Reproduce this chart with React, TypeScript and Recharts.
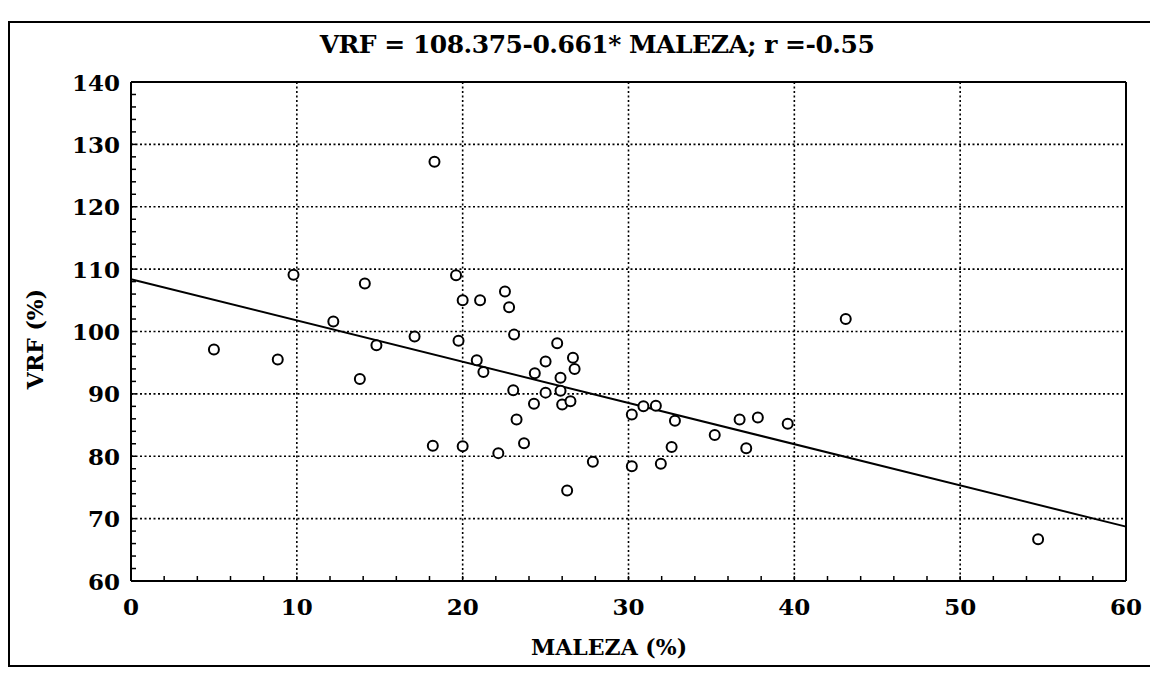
import {
  CartesianGrid,
  Scatter,
  ScatterChart,
  XAxis,
  YAxis,
} from "recharts";

const malezaPct = [
  5.0, 8.85, 9.8, 12.2, 13.8, 14.1, 14.8, 17.1, 18.2, 18.3, 19.6, 19.75, 20.0,
  20.0, 21.05, 20.85, 21.25, 22.15, 22.55, 22.8, 23.1, 23.05, 23.25, 23.7,
  24.3, 24.35, 25.0, 25.0, 25.7, 25.9, 25.9, 26.0, 26.3, 26.5, 26.65, 26.75,
  27.85, 30.2, 30.2, 30.9, 31.65, 31.95, 32.6, 32.8, 35.2, 36.7, 37.1, 37.8,
  39.6, 43.1, 54.7,
];

const vrfPct = [
  97.1, 95.5, 109.1, 101.6, 92.4, 107.7, 97.8, 99.2, 81.7, 127.2, 109.0, 98.5,
  105.0, 81.6, 105.0, 95.4, 93.5, 80.5, 106.4, 103.9, 99.5, 90.6, 85.9, 82.1,
  88.4, 93.3, 95.2, 90.2, 98.1, 92.6, 90.5, 88.3, 74.5, 88.8, 95.8, 94.0,
  79.1, 86.7, 78.4, 88.0, 88.1, 78.8, 81.5, 85.7, 83.4, 85.9, 81.3, 86.2,
  85.2, 102.0, 66.7,
];

// VRF = 108.375 - 0.661 * MALEZA, drawn between the axis ends
const fitX = [0, 60];
const fitY = [108.375, 68.715];

const xMajor = [0, 10, 20, 30, 40, 50, 60];
const yMajor = [60, 70, 80, 90, 100, 110, 120, 130, 140];
const xMinor = [
  0, 2, 4, 6, 8, 10, 12, 14, 16, 18, 20, 22, 24, 26, 28, 30, 32, 34, 36, 38,
  40, 42, 44, 46, 48, 50, 52, 54, 56, 58, 60,
];
const yMinor = [
  60, 62, 64, 66, 68, 70, 72, 74, 76, 78, 80, 82, 84, 86, 88, 90, 92, 94, 96,
  98, 100, 102, 104, 106, 108, 110, 112, 114, 116, 118, 120, 122, 124, 126,
  128, 130, 132, 134, 136, 138, 140,
];

const points = malezaPct.map((x, i) => ({ x, y: vrfPct[i] }));
const fitLine = fitX.map((x, i) => ({ x, y: fitY[i] }));

const FONT = "'DejaVu Serif', serif";

type TickProps = {
  x?: number;
  y?: number;
  payload?: { value?: number };
};

function bottomTick({ x = 0, y = 0, payload }: TickProps) {
  const v = Number(payload?.value ?? 0);
  return (
    <g>
      <line x1={x} x2={x} y1={y} y2={y - 5} stroke="#000" strokeWidth={1.5} />
      {v % 10 === 0 && (
        <text
          x={x}
          y={y + 34}
          textAnchor="middle"
          fontFamily={FONT}
          fontSize={23}
          fontWeight={700}
          fill="#000"
        >
          {v}
        </text>
      )}
    </g>
  );
}

function topTick({ x = 0, y = 0 }: TickProps) {
  return <line x1={x} x2={x} y1={y} y2={y + 5} stroke="#000" strokeWidth={1.5} />;
}

function leftTick({ x = 0, y = 0, payload }: TickProps) {
  const v = Number(payload?.value ?? 0);
  return (
    <g>
      <line x1={x} x2={x + 5} y1={y} y2={y} stroke="#000" strokeWidth={1.5} />
      {v % 10 === 0 && (
        <text
          x={x - 11}
          y={y + 8.5}
          textAnchor="end"
          fontFamily={FONT}
          fontSize={23}
          fontWeight={700}
          fill="#000"
        >
          {v}
        </text>
      )}
    </g>
  );
}

function rightTick({ x = 0, y = 0 }: TickProps) {
  return <line x1={x} x2={x - 5} y1={y} y2={y} stroke="#000" strokeWidth={1.5} />;
}

function ring(props: any) {
  return (
    <circle
      cx={props.cx}
      cy={props.cy}
      r={5}
      fill="#fff"
      stroke="#000"
      strokeWidth={2}
    />
  );
}

const axisLine = { stroke: "#000", strokeWidth: 2 };

export default function App() {
  return (
    <div
      style={{
        position: "absolute",
        left: 0,
        top: 0,
        width: 1150,
        height: 677,
        background: "#fff",
        overflow: "hidden",
      }}
    >
      <div
        style={{
          position: "absolute",
          left: 8,
          top: 21,
          width: 1170,
          height: 642,
          border: "2px solid #000",
        }}
      />
      <div
        style={{
          position: "absolute",
          left: 247,
          width: 700,
          top: 30,
          textAlign: "center",
          fontFamily: FONT,
          fontSize: 25,
          fontWeight: 700,
          letterSpacing: -0.5,
          whiteSpace: "nowrap",
        }}
      >
        VRF = 108.375-0.661* MALEZA; r =-0.55
      </div>
      <div
        style={{
          position: "absolute",
          left: 509,
          top: 634,
          width: 200,
          textAlign: "center",
          fontFamily: FONT,
          fontSize: 22,
          fontWeight: 700,
          whiteSpace: "nowrap",
        }}
      >
        MALEZA (%)
      </div>
      <div
        style={{
          position: "absolute",
          left: -25,
          top: 326,
          width: 120,
          textAlign: "center",
          fontFamily: FONT,
          fontSize: 22,
          fontWeight: 700,
          whiteSpace: "nowrap",
          transform: "rotate(-90deg)",
        }}
      >
        VRF (%)
      </div>
      <div style={{ position: "absolute", left: 0, top: 0 }}>
        <ScatterChart
          width={1150}
          height={677}
          margin={{ top: 81, right: 23, bottom: 46, left: 61 }}
        >
          <CartesianGrid
            stroke="#000"
            strokeWidth={1.6}
            strokeDasharray="2 2.5"
            horizontalValues={yMajor}
            verticalValues={xMajor}
          />
          <XAxis
            type="number"
            dataKey="x"
            domain={[0, 60]}
            ticks={xMinor}
            interval={0}
            tick={bottomTick}
            tickLine={false}
            tickSize={0}
            tickMargin={0}
            axisLine={axisLine}
            height={50}
          />
          <XAxis
            xAxisId="top"
            orientation="top"
            type="number"
            domain={[0, 60]}
            ticks={xMinor}
            interval={0}
            tick={topTick}
            tickLine={false}
            tickSize={0}
            tickMargin={0}
            axisLine={axisLine}
            height={1}
          />
          <YAxis
            type="number"
            dataKey="y"
            domain={[60, 140]}
            ticks={yMinor}
            interval={0}
            tick={leftTick}
            tickLine={false}
            tickSize={0}
            tickMargin={0}
            axisLine={axisLine}
            width={70}
          />
          <YAxis
            yAxisId="right"
            orientation="right"
            type="number"
            domain={[60, 140]}
            ticks={yMinor}
            interval={0}
            tick={rightTick}
            tickLine={false}
            tickSize={0}
            tickMargin={0}
            axisLine={axisLine}
            width={1}
          />
          <Scatter
            data={fitLine}
            line={{ stroke: "#000", strokeWidth: 2 }}
            shape={() => <g />}
            isAnimationActive={false}
          />
          <Scatter data={points} shape={ring} isAnimationActive={false} />
        </ScatterChart>
      </div>
    </div>
  );
}
